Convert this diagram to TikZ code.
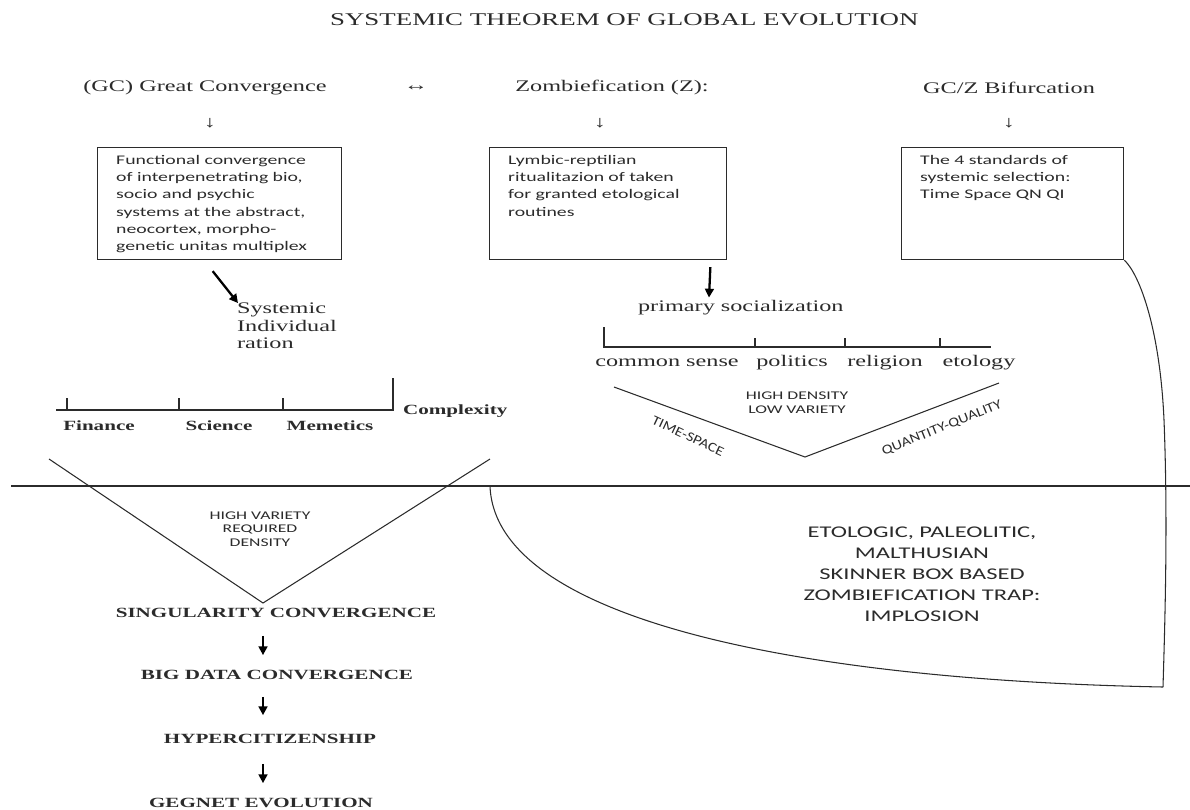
\documentclass[tikz,border=0pt]{standalone}
\usepackage{fontspec}
\setmainfont{Liberation Serif}[FakeStretch=1.5]
\newfontfamily\calfont{Carlito}[FakeStretch=1.5]
\newfontfamily\calslant{Carlito}[FakeStretch=1.2]
\usepackage{tikz}
\usetikzlibrary{arrows.meta, positioning}
\usepackage{xcolor}
\definecolor{ink}{HTML}{2B2B2B}

\tikzset{
  every node/.style={inner sep=1pt, text=ink},
  head/.style={font=\fontsize{9.2}{9.9}\selectfont},
  axislabel/.style={font=\bfseries\fontsize{8}{9}\selectfont},
  stage/.style={font=\bfseries\fontsize{8}{9}\selectfont},
  thinline/.style={draw=ink, line width=0.6pt},
  textbox/.style={draw=ink, line width=0.8pt, anchor=north west, align=left,
    inner xsep=0.37cm, inner ysep=3pt, text height=6.5pt, text depth=51.1pt,
    font=\calfont\fontsize{7.5}{9.8}\selectfont},
  tinycaps/.style={font=\calfont\fontsize{6.7}{7.8}\selectfont, align=center},
  sidecaps/.style={font=\calslant\fontsize{7.6}{8}\selectfont, inner sep=0pt},
  bigarrow/.style={-{Triangle[length=5pt,width=5pt]}, line width=1.3pt, draw=black},
}

\begin{document}
\begin{tikzpicture}[x=0.02cm, y=-0.02cm]
		\useasboundingbox (0,0) rectangle (1190,809);

		% Title
		\node[font=\fontsize{10.2}{11}\selectfont, anchor=west] (title) at (328,20) {SYSTEMIC THEOREM OF GLOBAL EVOLUTION};

		% Headings of the three columns
		\node[head] (gc) at (205,88) {(GC) Great Convergence};
		\node[head] (link) at (416,88) {↔};
		\node[head] (zomb) at (612,88) {Zombiefication (Z):};
		\node[head] (bif) at (1009,88) {GC/Z Bifurcation};
		\node[head] (gcdown) at (210,123) {↓};
		\node[head] (zombdown) at (600,123) {↓};
		\node[head] (bifdown) at (1009,123) {↓};

		% Boxes
		\node[textbox, text width=4.14cm] (gcbox) at (97,147) {Functional convergence\\ of interpenetrating bio,\\ socio and psychic\\ systems at the abstract,\\ neocortex, morpho-\\ genetic unitas multiplex};
		\node[textbox, text width=4cm] (zbox) at (489,147) {Lymbic-reptilian\\ ritualitazion of taken\\ for granted etological\\ routines};
		\node[textbox, text width=3.7cm] (bifbox) at (901,147) {The 4 standards of\\ systemic selection:\\ Time Space QN QI};

		\node[head, align=left, anchor=west] (sysind) at (235,326) {Systemic\\ Individual\\ ration};
		\draw[bigarrow] ([shift={(-7,11)}]gcbox.south) -- ([shift={(3,2)}]sysind.north west);

		\node[head, anchor=west] (primsoc) at (636,308) {primary socialization};
		\draw[bigarrow] ([shift={(-17,7)}]zbox.south east) -- ([shift={(73,-1)}]primsoc.north west);

		% Socialization axis
		\draw[thinline] (604,327) -- (604,347) -- (991,347);
		\foreach \x in {755,845,940} \draw[thinline] (\x,338) -- (\x,347);
		\node[head, anchor=base] (common) at (667,366) {common sense};
		\node[head, anchor=base] (politics) at (792,366) {politics};
		\node[head, anchor=base] (religion) at (885,366) {religion};
		\node[head, anchor=base] (etology) at (979,366) {etology};

		% Complexity axis
		\draw[thinline] (56,410) -- (393,410) -- (393,378);
		\foreach \x in {67,179,283} \draw[thinline] (\x,398) -- (\x,410);
		\node[axislabel] (finance) at (99,426) {Finance};
		\node[axislabel] (science) at (219,426) {Science};
		\node[axislabel] (memetics) at (330,426) {Memetics};
		\node[axislabel, anchor=west] (complexity) at (401,411) {Complexity};

		% Divider
		\draw[thinline] (11,486) -- (1190,486);

		% The two V shapes
		\draw[thinline] (49,459) -- (263,603) -- (490,459);
		\node[tinycaps] (variety) at (260,529) {HIGH VARIETY\\ REQUIRED\\ DENSITY};
		\draw[thinline] (614,387) -- (805,457) -- (999,383);
		\node[tinycaps] (density) at (797,403) {HIGH DENSITY\\ LOW VARIETY};
		\node[sidecaps, rotate=-25] (timespace) at (688,436) {TIME-SPACE};
		\node[sidecaps, rotate=22] (quantity) at (942,428) {QUANTITY-QUALITY};

		% Trap region
		\draw[thinline] (bifbox.south east) .. controls (1140,275) and (1160,330) .. (1164,420) .. controls (1168,520) and (1165,620) .. (1163,687);
		\draw[thinline] (490,486) .. controls (495,620) and (800,680) .. (1163,687);
		\node[font=\calfont\fontsize{9.3}{11.9}\selectfont, align=center] (trap) at (922,574) {ETOLOGIC, PALEOLITIC,\\ MALTHUSIAN\\ SKINNER BOX BASED\\ ZOMBIEFICATION TRAP:\\ IMPLOSION};

		% Convergence chain
		\node[stage] (sing) at (276,613) {SINGULARITY CONVERGENCE};
		\node[stage] (bigdata) at (277,675) {BIG DATA CONVERGENCE};
		\node[stage] (hyper) at (270,739) {HYPERCITIZENSHIP};
		\node[stage] (gegnet) at (261,803) {GEGNET EVOLUTION};
		\draw[bigarrow] ([shift={(-13,16)}]sing.south) -- ([shift={(-14,-13)}]bigdata.north);
		\draw[bigarrow] ([shift={(-14,15)}]bigdata.south) -- ([shift={(-7,-17)}]hyper.north);
		\draw[bigarrow] ([shift={(-7,18)}]hyper.south) -- ([shift={(2,-13)}]gegnet.north);
	\end{tikzpicture}
\end{document}
